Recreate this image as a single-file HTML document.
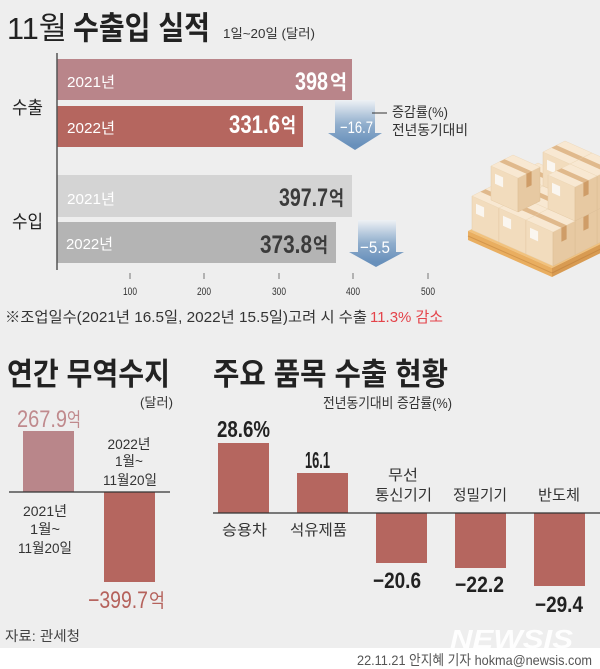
<!DOCTYPE html>
<html><head><meta charset="utf-8"><style>
html,body{margin:0;padding:0;background:#fff;}
svg{display:block;}
text{font-family:"Liberation Sans","Noto Sans CJK KR",sans-serif;}
</style></head><body>
<svg width="600" height="669" viewBox="0 0 600 669" xmlns="http://www.w3.org/2000/svg">
<defs>
<linearGradient id="ga" x1="0" y1="100" x2="0" y2="145" gradientUnits="userSpaceOnUse">
<stop offset="0" stop-color="#eef1f5"/><stop offset="0.55" stop-color="#8fadcc"/><stop offset="1" stop-color="#6890bb"/></linearGradient>
<linearGradient id="gb" x1="0" y1="220" x2="0" y2="262" gradientUnits="userSpaceOnUse">
<stop offset="0" stop-color="#eef1f5"/><stop offset="0.55" stop-color="#8fadcc"/><stop offset="1" stop-color="#6890bb"/></linearGradient>
<g id="box">
<polygon points="0,0 27,12 27,-22 0,-34" fill="#f2dcbd" stroke="#e6cca8" stroke-width="0.5"/>
<polygon points="27,12 49,1 49,-33 27,-22" fill="#e7c9a2" stroke="#dcbd94" stroke-width="0.5"/>
<polygon points="0,-34 27,-22 49,-33 22,-45" fill="#f8e8d2" stroke="#eed9ba" stroke-width="0.5"/>
<polygon points="8.4,-38.2 35.4,-26.2 40.6,-28.8 13.6,-40.8" fill="#e0b98c"/>
<polygon points="35.4,-26.2 40.6,-28.8 40.6,-14.8 35.4,-12.2" fill="#cf9d68"/>
<polygon points="4,-26.2 12.1,-22.6 12.1,-12.6 4,-16.2" fill="#faf6f0"/>
</g>
</defs>

<rect x="0" y="0" width="600" height="648" fill="#eeeeee"/>
<rect x="0" y="648" width="600" height="21" fill="#ffffff"/>

<!-- Title -->
<text x="7" y="39" font-size="31" fill="#222" textLength="60" lengthAdjust="spacingAndGlyphs">11월</text>
<text x="73" y="39" font-size="32" font-weight="bold" fill="#222" textLength="137" lengthAdjust="spacingAndGlyphs">수출입 실적</text>
<text x="223" y="38" font-size="13" fill="#333" textLength="92" lengthAdjust="spacingAndGlyphs">1일~20일 (달러)</text>

<!-- top bars -->
<rect x="57" y="59" width="295" height="41" fill="#b9858a"/>
<rect x="57" y="106" width="246" height="41" fill="#b5665f"/>
<rect x="57" y="175" width="295" height="42" fill="#d4d4d4"/>
<rect x="57" y="222" width="279" height="41" fill="#b4b4b4"/>
<line x1="57" y1="53" x2="57" y2="270" stroke="#555" stroke-width="1.5"/>

<text x="12" y="114" font-size="18" fill="#222" textLength="31" lengthAdjust="spacingAndGlyphs">수출</text>
<text x="12" y="228" font-size="18" fill="#222" textLength="31" lengthAdjust="spacingAndGlyphs">수입</text>

<text x="67" y="87" font-size="15" fill="#fff" textLength="48" lengthAdjust="spacingAndGlyphs">2021년</text>
<text x="295" y="90" font-size="25" font-weight="bold" fill="#fff" textLength="33" lengthAdjust="spacingAndGlyphs">398</text>
<text x="330" y="89" font-size="20" font-weight="bold" fill="#fff" textLength="17" lengthAdjust="spacingAndGlyphs">억</text>

<text x="67" y="133" font-size="15" fill="#fff" textLength="48" lengthAdjust="spacingAndGlyphs">2022년</text>
<text x="229" y="133" font-size="25" font-weight="bold" fill="#fff" textLength="51" lengthAdjust="spacingAndGlyphs">331.6</text>
<text x="281" y="132" font-size="20" font-weight="bold" fill="#fff" textLength="15" lengthAdjust="spacingAndGlyphs">억</text>

<text x="67" y="204" font-size="15" fill="#fff" textLength="48" lengthAdjust="spacingAndGlyphs">2021년</text>
<text x="279" y="206" font-size="25" font-weight="bold" fill="#3b3b3b" textLength="49" lengthAdjust="spacingAndGlyphs">397.7</text>
<text x="329" y="205" font-size="20" font-weight="bold" fill="#3b3b3b" textLength="15" lengthAdjust="spacingAndGlyphs">억</text>

<text x="66" y="249" font-size="15" fill="#fff" textLength="47" lengthAdjust="spacingAndGlyphs">2022년</text>
<text x="260" y="253" font-size="25" font-weight="bold" fill="#3b3b3b" textLength="52" lengthAdjust="spacingAndGlyphs">373.8</text>
<text x="313" y="252" font-size="20" font-weight="bold" fill="#3b3b3b" textLength="15" lengthAdjust="spacingAndGlyphs">억</text>

<!-- ticks -->
<g stroke="#777" stroke-width="1">
<line x1="130" y1="273" x2="130" y2="279"/>
<line x1="204" y1="273" x2="204" y2="279"/>
<line x1="279" y1="273" x2="279" y2="279"/>
<line x1="353" y1="273" x2="353" y2="279"/>
<line x1="428" y1="273" x2="428" y2="279"/>
</g>
<g font-size="11" fill="#333" text-anchor="middle">
<text x="130" y="295" textLength="14" lengthAdjust="spacingAndGlyphs">100</text>
<text x="204" y="295" textLength="14" lengthAdjust="spacingAndGlyphs">200</text>
<text x="279" y="295" textLength="14" lengthAdjust="spacingAndGlyphs">300</text>
<text x="353" y="295" textLength="14" lengthAdjust="spacingAndGlyphs">400</text>
<text x="428" y="295" textLength="14" lengthAdjust="spacingAndGlyphs">500</text>
</g>

<text x="5" y="322" font-size="15" fill="#333" textLength="362" lengthAdjust="spacingAndGlyphs">※조업일수(2021년 16.5일, 2022년 15.5일)고려 시 수출</text>
<text x="370" y="322" font-size="15" fill="#e4434a" textLength="73" lengthAdjust="spacingAndGlyphs">11.3% 감소</text>

<!-- arrows -->
<polygon points="335,100 375,100 375,133 382,133 355,150 328,133 335,133" fill="url(#ga)"/>
<text x="340" y="133" font-size="17" fill="#fff" textLength="33" lengthAdjust="spacingAndGlyphs">−16.7</text>
<polygon points="358,220 396,220 396,252 404,252 376,267 349,252 358,252" fill="url(#gb)"/>
<text x="360" y="253" font-size="17" fill="#fff" textLength="30" lengthAdjust="spacingAndGlyphs">−5.5</text>

<line x1="372" y1="113" x2="387" y2="113" stroke="#333" stroke-width="1"/>
<text x="392" y="117" font-size="14" fill="#333" textLength="56" lengthAdjust="spacingAndGlyphs">증감률(%)</text>
<text x="392" y="135" font-size="14" fill="#333" textLength="76" lengthAdjust="spacingAndGlyphs">전년동기대비</text>

<!-- pallet & boxes -->
<polygon points="468,231 552,268 621,234 537,197" fill="#f2c27c"/>
<polygon points="468,231 552,268 552,277 468,240" fill="#e9ae60"/>
<polygon points="552,268 621,234 621,243 552,277" fill="#d89b52"/>
<line x1="468" y1="236" x2="552" y2="273" stroke="#d4964c" stroke-width="1"/>
<line x1="552" y1="273" x2="621" y2="239" stroke="#c98a44" stroke-width="1"/>
<use href="#box" x="516" y="208"/>
<use href="#box" x="543" y="220"/>
<use href="#box" x="570" y="232"/>
<use href="#box" x="494" y="219"/>
<use href="#box" x="521" y="231"/>
<use href="#box" x="548" y="243"/>
<use href="#box" x="472" y="230"/>
<use href="#box" x="499" y="242"/>
<use href="#box" x="526" y="254"/>
<use href="#box" x="543" y="186"/>
<use href="#box" x="570" y="198"/>
<use href="#box" x="548" y="209"/>
<use href="#box" x="491" y="200"/>

<!-- bottom left -->
<text x="7" y="385" font-size="31" font-weight="bold" fill="#222" textLength="163" lengthAdjust="spacingAndGlyphs">연간 무역수지</text>
<text x="140" y="407" font-size="13" fill="#333" textLength="33" lengthAdjust="spacingAndGlyphs">(달러)</text>
<text x="17" y="427" font-size="24" fill="#c08a8d" textLength="50" lengthAdjust="spacingAndGlyphs">267.9</text>
<text x="67" y="426" font-size="19" fill="#c08a8d" textLength="14" lengthAdjust="spacingAndGlyphs">억</text>
<rect x="23" y="431" width="51" height="61" fill="#b9868a"/>
<rect x="104" y="492" width="51" height="90" fill="#b5665f"/>
<line x1="9" y1="492" x2="170" y2="492" stroke="#333" stroke-width="1.3"/>
<g font-size="14" fill="#333" text-anchor="middle">
<text x="129" y="449" textLength="43" lengthAdjust="spacingAndGlyphs">2022년</text>
<text x="129" y="466" textLength="28" lengthAdjust="spacingAndGlyphs">1월~</text>
<text x="130" y="485" textLength="54" lengthAdjust="spacingAndGlyphs">11월20일</text>
<text x="45" y="516" textLength="44" lengthAdjust="spacingAndGlyphs">2021년</text>
<text x="45" y="534" textLength="30" lengthAdjust="spacingAndGlyphs">1월~</text>
<text x="45" y="553" textLength="54" lengthAdjust="spacingAndGlyphs">11월20일</text>
</g>
<text x="88" y="608" font-size="24" fill="#b5625c" textLength="60" lengthAdjust="spacingAndGlyphs">−399.7</text>
<text x="149" y="607" font-size="19" fill="#b5625c" textLength="16" lengthAdjust="spacingAndGlyphs">억</text>

<!-- bottom right -->
<text x="213" y="385" font-size="31" font-weight="bold" fill="#222" textLength="235" lengthAdjust="spacingAndGlyphs">주요 품목 수출 현황</text>
<text x="323" y="408" font-size="14" fill="#333" textLength="129" lengthAdjust="spacingAndGlyphs">전년동기대비 증감률(%)</text>
<rect x="218" y="443" width="51" height="70" fill="#b5665f"/>
<rect x="297" y="473" width="51" height="40" fill="#b5665f"/>
<rect x="376" y="513" width="51" height="50" fill="#b5665f"/>
<rect x="455" y="513" width="51" height="55" fill="#b5665f"/>
<rect x="534" y="513" width="51" height="73" fill="#b5665f"/>
<line x1="213" y1="513" x2="600" y2="513" stroke="#333" stroke-width="1.3"/>
<text x="217" y="437" font-size="23" font-weight="bold" fill="#222" textLength="53" lengthAdjust="spacingAndGlyphs">28.6%</text>
<text x="305" y="468" font-size="23" font-weight="bold" fill="#222" textLength="25" lengthAdjust="spacingAndGlyphs">16.1</text>
<g font-size="15" fill="#333">
<text x="388" y="480" textLength="30" lengthAdjust="spacingAndGlyphs">무선</text>
<text x="375" y="500" textLength="57" lengthAdjust="spacingAndGlyphs">통신기기</text>
<text x="453" y="500" textLength="54" lengthAdjust="spacingAndGlyphs">정밀기기</text>
<text x="538" y="500" textLength="42" lengthAdjust="spacingAndGlyphs">반도체</text>
<text x="222" y="535" textLength="45" lengthAdjust="spacingAndGlyphs">승용차</text>
<text x="290" y="535" textLength="57" lengthAdjust="spacingAndGlyphs">석유제품</text>
</g>
<g font-size="22" font-weight="bold" fill="#222">
<text x="373" y="588" textLength="48" lengthAdjust="spacingAndGlyphs">−20.6</text>
<text x="455" y="592" textLength="49" lengthAdjust="spacingAndGlyphs">−22.2</text>
<text x="535" y="612" textLength="48" lengthAdjust="spacingAndGlyphs">−29.4</text>
</g>

<text x="5" y="641" font-size="14" fill="#444" textLength="75" lengthAdjust="spacingAndGlyphs">자료: 관세청</text>

<text x="450" y="648" font-size="26" font-weight="bold" font-style="italic" fill="#ffffff" fill-opacity="0.9" textLength="123" lengthAdjust="spacingAndGlyphs">NEWSIS</text>

<text x="357" y="665" font-size="14" fill="#555" textLength="235" lengthAdjust="spacingAndGlyphs">22.11.21 안지혜 기자 hokma@newsis.com</text>
</svg>
</body></html>
